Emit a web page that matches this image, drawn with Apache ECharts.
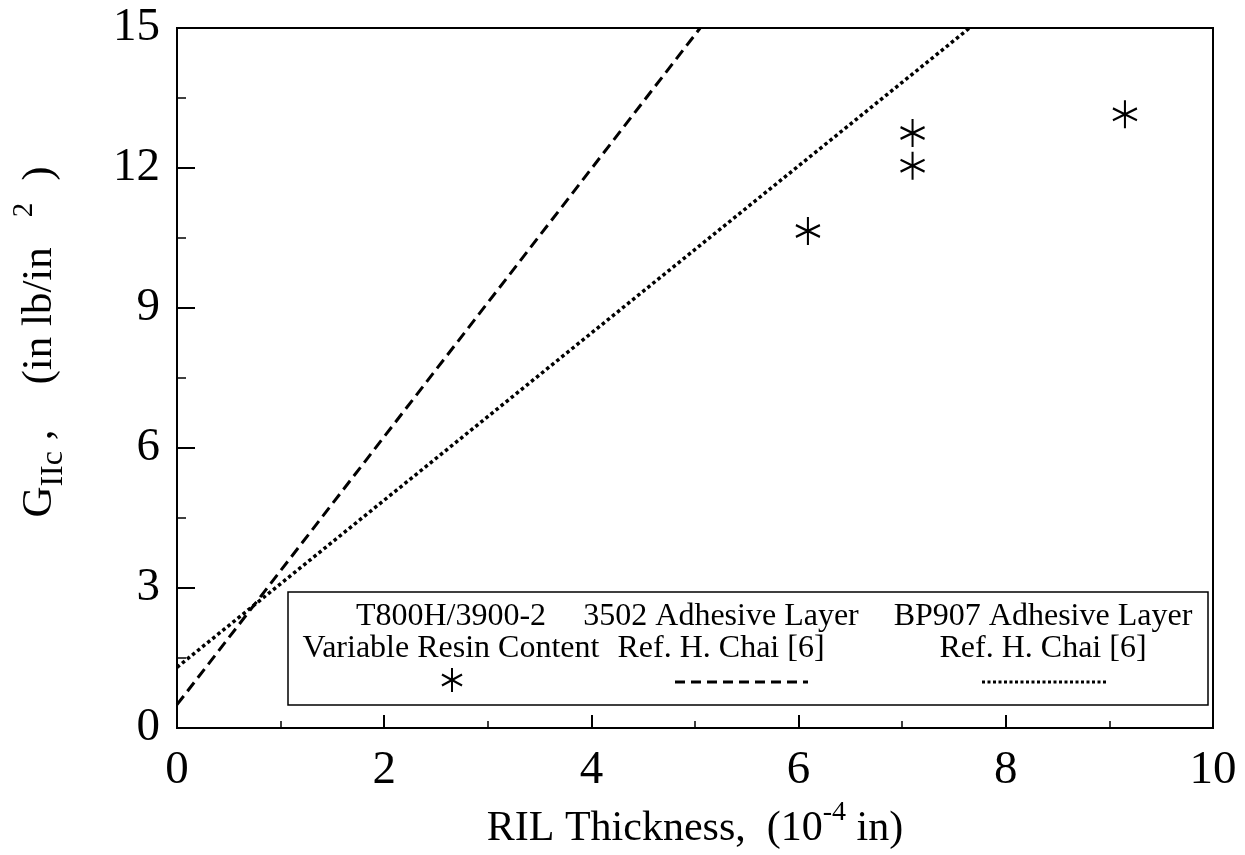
<!DOCTYPE html>
<html><head><meta charset="utf-8">
<script src="https://cdn.jsdelivr.net/npm/echarts@6/dist/echarts.min.js"></script>
<style>html,body{margin:0;padding:0;background:#fff}#c{width:1245px;height:855px}</style>
</head><body><div id="c"></div>
<script>
// ---- data ----
const xTicks = [0, 2, 4, 6, 8, 10];
const yTicks = [0, 3, 6, 9, 12, 15];
const resinX = [6.09, 7.1, 7.1, 9.15];
const resinY = [10.65, 12.05, 12.75, 13.15];
const adh3502X = [0, 5.05];
const adh3502Y = [0.5, 15];
const bp907X = [0, 7.65];
const bp907Y = [1.3, 15];
const legendLine1 = ['T800H/3900-2', '3502 Adhesive Layer', 'BP907 Adhesive Layer'];
const legendLine2 = ['Variable Resin Content', 'Ref. H. Chai [6]', 'Ref. H. Chai [6]'];

const FONT = '"Liberation Serif", "DejaVu Serif", serif';
const STAR = 'path://M11,0 L11,26 M1,7.5 L21,18.5 M1,18.5 L21,7.5';

const chart = echarts.init(document.getElementById('c'));

const legCols = [451, 721, 1043];
const graphics = [
  {type: 'rect', shape: {x: 288, y: 592, width: 920, height: 113},
   style: {fill: '#fff', stroke: '#000', lineWidth: 1.5}, z: 50}
];
legendLine1.forEach((t, i) => {
  graphics.push({type: 'text', x: legCols[i], y: 617, z: 51,
    style: {text: t, font: '32px ' + FONT, fill: '#000', align: 'center', verticalAlign: 'middle'}});
  graphics.push({type: 'text', x: legCols[i], y: 649, z: 51,
    style: {text: legendLine2[i], font: '32px ' + FONT, fill: '#000', align: 'center', verticalAlign: 'middle'}});
});
// legend star sample (centre 452, 680)
const sx = 452, sy = 680;
[[0, -12, 0, 12], [-10, -5.5, 10, 5.5], [-10, 5.5, 10, -5.5]].forEach(s => {
  graphics.push({type: 'line', z: 51, shape: {x1: sx + s[0], y1: sy + s[1], x2: sx + s[2], y2: sy + s[3]},
    style: {stroke: '#000', lineWidth: 2}});
});
graphics.push({type: 'line', z: 51, shape: {x1: 675, y1: 682, x2: 808, y2: 682},
  style: {stroke: '#000', lineWidth: 3, lineDash: [10, 6]}});
graphics.push({type: 'line', z: 51, shape: {x1: 982, y1: 682, x2: 1108, y2: 682},
  style: {stroke: '#000', lineWidth: 3, lineDash: [3, 2.5]}});

const option = {
  backgroundColor: '#fff',
  animation: false,
  grid: {left: 177, right: 32, top: 28, bottom: 125, show: true, borderColor: '#000', borderWidth: 2},
  xAxis: {
    type: 'value', min: xTicks[0], max: xTicks[xTicks.length - 1], interval: 2,
    name: '{m|RIL Thickness,  (10}{p|-4}{m| in)}',
    nameLocation: 'middle', nameGap: 71,
    nameTextStyle: {color: '#000', fontFamily: FONT,
      rich: {m: {fontSize: 42, fontFamily: FONT, color: '#000', lineHeight: 60},
             p: {fontSize: 28, fontFamily: FONT, color: '#000', verticalAlign: 'top', lineHeight: 28}}},
    axisLine: {show: true, lineStyle: {color: '#000', width: 2}},
    axisTick: {show: true, inside: true, length: 13, lineStyle: {color: '#000', width: 2}},
    minorTick: {show: true, splitNumber: 2, length: 7, lineStyle: {color: '#000', width: 1.5}},
    splitLine: {show: false},
    axisLabel: {color: '#000', fontFamily: FONT, fontSize: 47, margin: 19}
  },
  yAxis: {
    type: 'value', min: yTicks[0], max: yTicks[yTicks.length - 1], interval: 3,
    name: '{m|G}{s|IIc}{m| ,}{w1| }{m|(in lb/in}{w2| }{p|2}{w3| }{m|)}',
    nameLocation: 'middle', nameGap: 107, nameRotate: 90,
    nameTextStyle: {color: '#000', fontFamily: FONT, padding: [0, 0, 0, 72],
      rich: {m: {fontSize: 43, fontFamily: FONT, color: '#000', lineHeight: 60},
             w1: {fontSize: 43, fontFamily: FONT, lineHeight: 60, width: 45},
             w2: {fontSize: 43, fontFamily: FONT, lineHeight: 60, width: 30},
             w3: {fontSize: 43, fontFamily: FONT, lineHeight: 60, width: 22},
             s: {fontSize: 32, fontFamily: FONT, color: '#000', verticalAlign: 'bottom', lineHeight: 32},
             p: {fontSize: 29, fontFamily: FONT, color: '#000', verticalAlign: 'top', lineHeight: 29}}},
    axisLine: {show: true, lineStyle: {color: '#000', width: 2}},
    axisTick: {show: true, inside: true, length: 18, lineStyle: {color: '#000', width: 2}},
    minorTick: {show: true, splitNumber: 2, length: 9, lineStyle: {color: '#000', width: 1.5}},
    splitLine: {show: false},
    axisLabel: {color: '#000', fontFamily: FONT, fontSize: 47, margin: 17}
  },
  series: [
    {name: '3502', type: 'line', data: adh3502X.map((x, i) => [x, adh3502Y[i]]),
     showSymbol: false, symbol: 'none', lineStyle: {color: '#000', width: 3, type: [11, 6]}},
    {name: 'BP907', type: 'line', data: bp907X.map((x, i) => [x, bp907Y[i]]),
     showSymbol: false, symbol: 'none', lineStyle: {color: '#000', width: 3.5, type: [3.5, 3]}},
    {name: 'T800H', type: 'scatter', data: resinX.map((x, i) => [x, resinY[i]]),
     symbol: STAR, symbolSize: [24, 28],
     itemStyle: {color: 'none', borderColor: '#000', borderWidth: 2.2, opacity: 1}}
  ],
  graphic: graphics
};
chart.setOption(option);
</script>
</body></html>
